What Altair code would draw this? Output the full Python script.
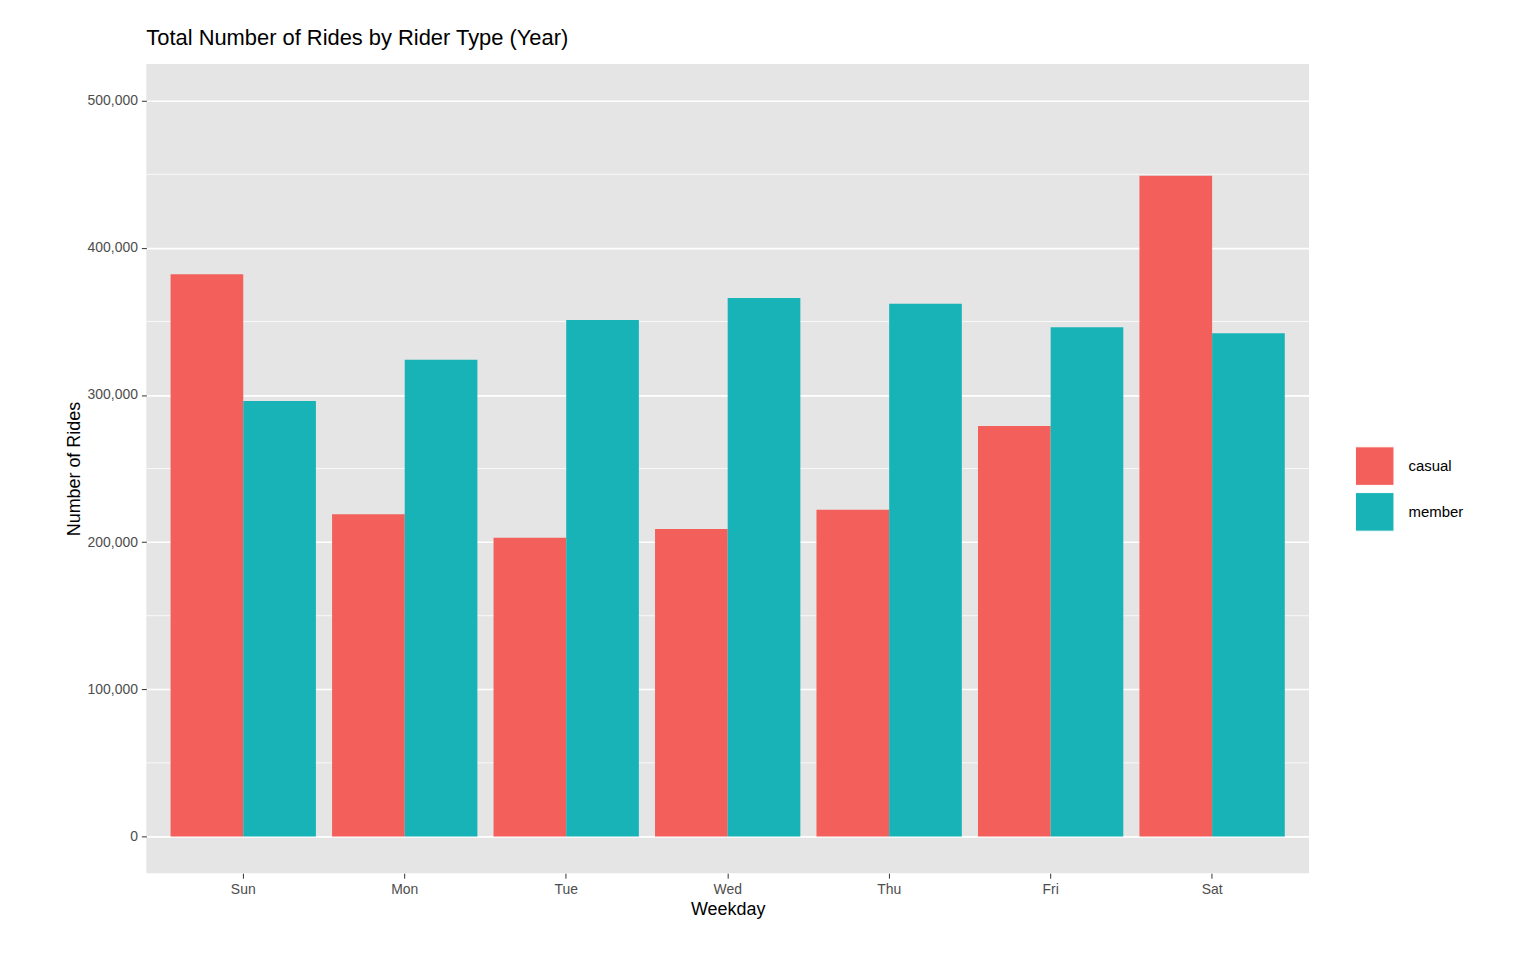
import altair as alt
import pandas as pd

days = ["Sun", "Mon", "Tue", "Wed", "Thu", "Fri", "Sat"]
casual = [382000, 219000, 203000, 209000, 222000, 279000, 449000]
member = [296000, 324000, 351000, 366000, 362000, 346000, 342000]
minor_ticks = [50000, 150000, 250000, 350000, 450000]

df = pd.DataFrame({
    "day": days * 2,
    "rider": ["casual"] * 7 + ["member"] * 7,
    "rides": casual + member,
})
minor = pd.DataFrame({"v": minor_ticks})

yscale = alt.Scale(domain=[-25000, 525000], nice=False, zero=False)

bars = alt.Chart(df).mark_bar().encode(
    x=alt.X("day:N", sort=days, title="Weekday",
            scale=alt.Scale(paddingInner=0.1, paddingOuter=0.15),
            axis=alt.Axis(labelAngle=0, bandPosition=0.5, gridColor="white",
                          gridWidth=1.6)),
    xOffset=alt.XOffset("rider:N", scale=alt.Scale(paddingInner=0, paddingOuter=0)),
    y=alt.Y("rides:Q", scale=yscale, title="Number of Rides",
            axis=alt.Axis(values=[0, 100000, 200000, 300000, 400000, 500000],
                          format=",d", gridColor="white", gridWidth=1.6)),
    color=alt.Color("rider:N", title=None,
                    scale=alt.Scale(domain=["casual", "member"], range=["#F35F5B", "#18B3B7"]),
                    legend=alt.Legend(orient="none", legendX=1214, legendY=384,
                                      symbolType="square", symbolSize=1500,
                                      symbolStrokeColor="white", symbolStrokeWidth=1,
                                      labelFontSize=15, labelColor="black",
                                      rowPadding=2, labelOffset=14)),
)

minor_rules = alt.Chart(minor).mark_rule(color="white", strokeWidth=0.8).encode(
    y=alt.Y("v:Q", scale=yscale)
)

chart = alt.layer(minor_rules, bars).properties(
    width=1168, height=813,
    autosize=alt.AutoSizeParams(type="none"),
    padding={"left": 139, "top": 54, "right": 220, "bottom": 90},
    background="white",
    title=alt.Title("Total Number of Rides by Rider Type (Year)", anchor="start",
                    frame="group", fontSize=22, fontWeight="normal",
                    color="black", offset=14, font="Liberation Sans"),
).configure_view(
    fill="#E5E5E5", stroke=None
).configure_axis(
    domain=False, tickColor="#333333", tickSize=5,
    labelColor="#4D4D4D", labelFontSize=14, labelFont="Liberation Sans",
    titleFontSize=18, titleFontWeight="normal", titleColor="black",
    titleFont="Liberation Sans", labelPadding=4,
).configure_legend(labelFont="Liberation Sans")

chart.save("out.html", embed_options={"renderer": "svg", "actions": False})
